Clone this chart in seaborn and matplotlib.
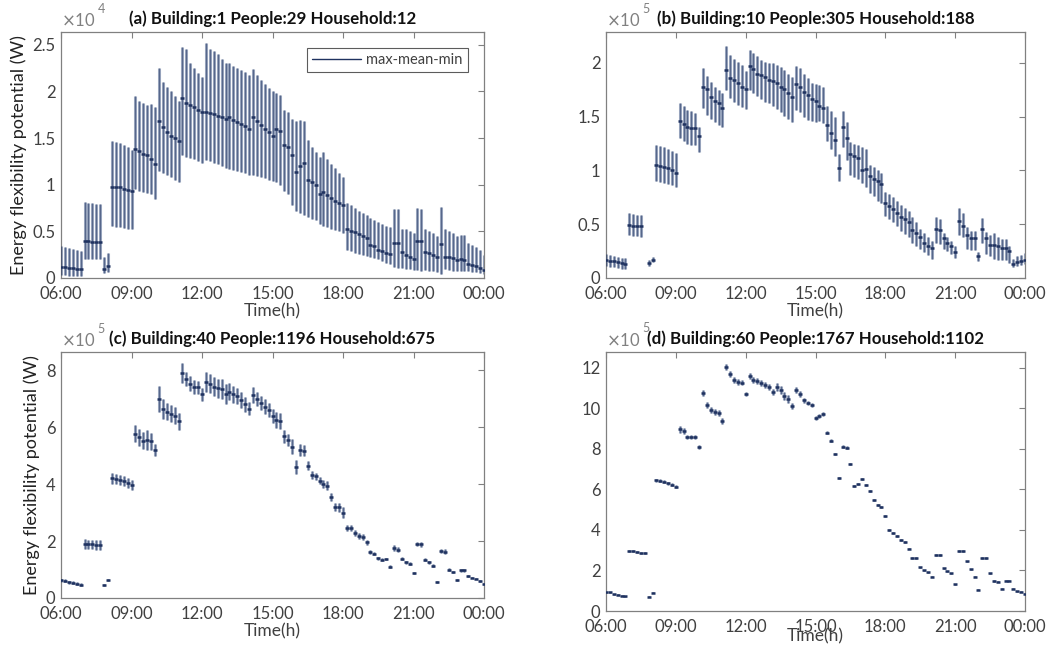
import numpy as np
import matplotlib
matplotlib.use("Agg")
import matplotlib.pyplot as plt
import seaborn as sns
from matplotlib.lines import Line2D
from matplotlib.ticker import FuncFormatter

nan = np.nan

# ---------------- data (10-minute steps from 06:00 to 00:00) ----------------
tick_hours = [6, 9, 12, 15, 18, 21, 24]
tick_labels = ["06:00", "09:00", "12:00", "15:00", "18:00", "21:00", "00:00"]
n_steps = 109
time_h = 6 + np.arange(n_steps) / 6.0

titles = ["(a) Building:1 People:29 Household:12",
          "(b) Building:10 People:305 Household:188",
          "(c) Building:40 People:1196 Household:675",
          "(d) Building:60 People:1767 Household:1102"]

a_mean = [1200, 1150, 1100, 1050, 1000, 950,
          4000, 4000, 3900, 3900, 3900, 1000,
          1300, 9800, 9750, 9700, 9500, 9400,
          9300, 13800, 13600, 13300, 13200, 12800,
          12200, 16800, 16200, 15600, 15200, 15000,
          14700, 19300, 18800, 18500, 18300, 18000,
          17800, 17800, 17700, 17600, 17400, 17300,
          17000, 17200, 16900, 16700, 16500, 16300,
          16000, 17200, 16800, 16400, 16000, 15600,
          15200, 16000, 15800, 14200, 14000, 13200,
          11400, 12000, 12300, 10500, 10300, 10000,
          9000, 9200, 8900, 8600, 8200, 8000,
          7800, 5200, 5000, 4900, 4700, 4500,
          4300, 3500, 3400, 3000, 2900, 2700,
          2600, 3800, 3800, 2800, 2500, 2300,
          2000, 4000, 4000, 2800, 2700, 2500,
          2200, 3600, 2300, 2200, 2100, 1900,
          2000, 1900, 1500, 1400, 1300, 1100,
          900]
a_hi = [3400, 3300, 3200, 3100, 3000, 2900,
        8100, 8000, 8000, 7900, 7900, 2200,
        2700, 14700, 14600, 14500, 14300, 14000,
        13700, 19500, 19000, 18700, 18500, 18600,
        18300, 22500, 21000, 20500, 20000, 19500,
        19000, 24800, 24500, 23000, 22500, 22000,
        21500, 25200, 24500, 24300, 24000, 23500,
        23000, 23000, 22700, 22500, 22300, 22100,
        21800, 22400, 21800, 21200, 20800, 20400,
        20000, 19800, 19600, 18000, 17800, 17000,
        16800, 16900, 16800, 14800, 14000, 13500,
        13000, 13500, 12800, 12200, 11800, 11200,
        10800, 8000, 7800, 7500, 7200, 7000,
        6800, 6400, 6200, 6000, 5800, 5600,
        5500, 7400, 7400, 5300, 5200, 5000,
        4800, 7500, 7400, 5200, 5000, 4800,
        4500, 7600, 5200, 5000, 4800, 4500,
        4600, 4600, 3800, 3500, 3300, 3000,
        2500]
a_lo = [300, 300, 250, 250, 200, 200,
        2000, 2000, 2000, 2000, 2000, 500,
        600, 5600, 5500, 5500, 5400, 5300,
        5200, 9500, 9300, 9200, 9100, 9000,
        8500, 11500, 11200, 11000, 10800, 10500,
        10300, 13200, 13000, 12900, 12700, 12500,
        12300, 12600, 12500, 12300, 12200, 12000,
        11800, 11700, 11600, 11500, 11400, 11200,
        11000, 11000, 10900, 10800, 10700, 10500,
        10400, 10300, 10000, 9300, 9000, 7800,
        7200, 7000, 6800, 6500, 6300, 6200,
        5800, 5600, 5500, 5300, 5100, 5000,
        4800, 3000, 2900, 2700, 2600, 2500,
        2400, 2200, 2100, 2000, 1800, 1600,
        1500, 1200, 1100, 1100, 1000, 1000,
        900, 900, 800, 900, 800, 800,
        600, 400, 1000, 900, 800, 700,
        700, 800, 700, 600, 600, 500,
        400]

b_mean = [16500, 16000, 15500, 14500, 13500, 13000,
          49000, 48500, 48000, 48000, nan, 14000,
          17000, 105000, 104000, 103000, 102000, 100000,
          98000, 146000, 143000, 140000, 139000, 139000,
          132000, 178000, 176000, 168000, 165000, 163000,
          158000, 193000, 186000, 184000, 181000, 178000,
          176000, 197000, 194000, 190000, 189000, 187000,
          184000, 183000, 181000, 178000, 176000, 172000,
          168000, 180000, 178000, 173000, 170000, 166000,
          165000, 160000, 158000, 142000, 135000, 128000,
          102000, 140000, 130000, 115000, 113000, 112000,
          100000, 101000, 95000, 92000, 90000, 87000,
          70000, 67000, 64000, 60000, 57000, 55000,
          52000, 45000, 42000, 38000, 33000, 30000,
          28000, 46000, 45000, 37000, 33000, 30000,
          24000, 53000, 48000, 40000, 37000, 37000,
          20000, 46000, 37000, 31000, 31000, 30000,
          28000, 28000, 25000, 13000, 15000, 16000,
          17000]
b_hi = [22500, 21500, 20500, 19500, 19000, 18500,
        60000, 59500, 59000, 58500, nan, 16500,
        19500, 124000, 123000, 122000, 120000, 118000,
        116000, 163000, 160000, 156000, 155000, 153000,
        140000, 195000, 188000, 182000, 178000, 175000,
        172000, 216000, 207000, 204000, 201000, 198000,
        192000, 212000, 209000, 206000, 203000, 201000,
        200000, 200000, 198000, 196000, 193000, 190000,
        187000, 197000, 195000, 190000, 186000, 181000,
        180000, 179000, 178000, 160000, 155000, 150000,
        115000, 155000, 145000, 126000, 125000, 124000,
        122000, 120000, 105000, 103000, 100000, 98000,
        80000, 78000, 75000, 72000, 68000, 65000,
        62000, 57000, 52000, 46000, 42000, 38000,
        34000, 57000, 55000, 42000, 38000, 34000,
        30000, 65000, 60000, 47000, 44000, 44000,
        24000, 56000, 43000, 40000, 42000, 38000,
        36000, 36000, 30000, 18000, 20000, 21000,
        23000]
b_lo = [11000, 10500, 10000, 9500, 8500, 8000,
        40000, 39500, 39000, 38500, nan, 11500,
        14500, 90000, 89000, 88000, 87000, 86000,
        85000, 130000, 127000, 125000, 124000, 124000,
        117000, 158000, 152000, 148000, 145000, 142000,
        140000, 175000, 167000, 164000, 161000, 159000,
        157000, 175000, 172000, 169000, 166000, 164000,
        163000, 160000, 157000, 154000, 151000, 148000,
        145000, 156000, 154000, 150000, 147000, 146000,
        145000, 146000, 144000, 127000, 120000, 113000,
        90000, 122000, 110000, 96000, 94000, 92000,
        88000, 85000, 79000, 76000, 72000, 70000,
        58000, 55000, 52000, 48000, 44000, 41000,
        38000, 33000, 30000, 27000, 24000, 21000,
        18000, 33000, 32000, 27000, 25000, 22000,
        19000, 40000, 38000, 27000, 26000, 26000,
        16000, 33000, 22000, 20000, 18000, 17000,
        17000, 17000, 14000, 10000, 11000, 12000,
        13000]

c_mean = [62000, 61000, 55000, 53000, 50000, 47000,
          190000, 188000, 188000, 187000, 186000, 45000,
          63000, 420000, 418000, 415000, 410000, 405000,
          398000, 577000, 565000, 553000, 555000, 550000,
          520000, 700000, 665000, 655000, 648000, 640000,
          620000, 790000, 770000, 753000, 742000, 740000,
          715000, 760000, 753000, 742000, 736000, 733000,
          718000, 725000, 715000, 708000, 697000, 680000,
          665000, 712000, 700000, 685000, 672000, 660000,
          640000, 625000, 622000, 568000, 555000, 532000,
          460000, 520000, 518000, 465000, 432000, 428000,
          412000, 400000, 395000, 355000, 320000, 318000,
          300000, 247000, 245000, 228000, 218000, 215000,
          195000, 162000, 155000, 140000, 135000, 137000,
          110000, 175000, 170000, 138000, 125000, 120000,
          88000, 190000, 188000, 135000, 125000, 113000,
          55000, 165000, 163000, 100000, 92000, 62000,
          97000, 97000, 78000, 72000, 68000, 60000,
          48000]
c_err = [6000, 6000, 5000, 5000, 5000, 5000,
         17000, 17000, 17000, 17000, 17000, 4000,
         4000, 18000, 18000, 18000, 18000, 18000,
         18000, 30000, 30000, 30000, 35000, 30000,
         20000, 45000, 35000, 30000, 30000, 30000,
         30000, 35000, 25000, 25000, 25000, 22000,
         22000, 35000, 33000, 33000, 33000, 35000,
         35000, 30000, 30000, 28000, 28000, 25000,
         23000, 28000, 25000, 26000, 26000, 25000,
         25000, 27000, 28000, 22000, 22000, 25000,
         23000, 20000, 20000, 15000, 13000, 12000,
         13000, 13000, 15000, 14000, 15000, 16000,
         20000, 10000, 10000, 10000, 10000, 10000,
         8000, 6000, 5000, 5000, 5000, 5000,
         5000, 10000, 10000, 6000, 5000, 5000,
         4000, 8000, 8000, 5000, 5000, 5000,
         3000, 8000, 8000, 4000, 4000, 3000,
         4000, 4000, 4000, 3000, 3000, 3000,
         3000]

d_mean = [93000, 92000, 82000, 81000, 76000, 72000,
          298000, 295000, 290000, 288000, 287000, 70000,
          90000, 645000, 643000, 637000, 630000, 622000,
          613000, 895000, 888000, 858000, 860000, 858000,
          810000, 1075000, 1015000, 990000, 980000, 975000,
          935000, 1205000, 1170000, 1140000, 1130000, 1125000,
          1070000, 1160000, 1140000, 1135000, 1125000, 1115000,
          1105000, 1080000, 1105000, 1090000, 1060000, 1045000,
          1010000, 1090000, 1070000, 1040000, 1025000, 1015000,
          950000, 962000, 970000, 880000, 840000, 775000,
          655000, 810000, 805000, 725000, 615000, 625000,
          650000, 620000, 590000, 545000, 525000, 515000,
          470000, 398000, 385000, 370000, 350000, 340000,
          308000, 262000, 262000, 215000, 200000, 190000,
          170000, 275000, 275000, 210000, 195000, 185000,
          132000, 295000, 295000, 245000, 205000, 170000,
          105000, 260000, 260000, 185000, 148000, 145000,
          110000, 150000, 150000, 110000, 98000, 95000,
          85000]
d_err = [3000, 3000, 3000, 3000, 3000, 3000,
         5000, 5000, 5000, 5000, 5000, 3000,
         3000, 8000, 8000, 8000, 8000, 8000,
         8000, 15000, 15000, 10000, 10000, 10000,
         10000, 15000, 15000, 15000, 15000, 15000,
         15000, 15000, 15000, 15000, 15000, 12000,
         12000, 15000, 15000, 15000, 15000, 15000,
         15000, 15000, 20000, 20000, 18000, 18000,
         15000, 15000, 15000, 12000, 10000, 10000,
         10000, 10000, 10000, 8000, 8000, 6000,
         6000, 8000, 8000, 6000, 5000, 5000,
         6000, 5000, 5000, 5000, 5000, 5000,
         5000, 4000, 4000, 4000, 4000, 4000,
         4000, 4000, 4000, 3000, 3000, 3000,
         3000, 4000, 4000, 3000, 3000, 3000,
         3000, 4000, 4000, 3000, 3000, 3000,
         3000, 4000, 4000, 3000, 3000, 3000,
         3000, 3000, 3000, 3000, 3000, 3000,
         3000]

# ---------------- styling ----------------
sns.set_style("white", {"xtick.direction": "in", "ytick.direction": "in",
                        "axes.edgecolor": "#808080"})
plt.rcParams['font.family'] = ['Lato', 'DejaVu Sans']

DARK = "#1f3260"
LIGHT = "#95a2bb"
GREY = "#404040"

fig = plt.figure(figsize=(10.51, 6.46), dpi=100)

W, H = 1051.0, 646.0
boxes = [(61, 484, 32, 278), (606, 1025, 32, 278),
         (61, 484, 352, 598), (606, 1025, 352, 611)]

panels = [
    dict(mean=np.array(a_mean, float), lo=np.array(a_lo, float), hi=np.array(a_hi, float),
         scale=1e4, exp="4", ymax=26360, yt=[0, 5000, 10000, 15000, 20000, 25000]),
    dict(mean=np.array(b_mean, float), lo=np.array(b_lo, float), hi=np.array(b_hi, float),
         scale=1e5, exp="5", ymax=228700, yt=[0, 50000, 100000, 150000, 200000]),
    dict(mean=np.array(c_mean, float),
         lo=np.array(c_mean, float) - np.array(c_err, float),
         hi=np.array(c_mean, float) + np.array(c_err, float),
         scale=1e5, exp="5", ymax=864000, yt=[0, 200000, 400000, 600000, 800000]),
    dict(mean=np.array(d_mean, float),
         lo=np.array(d_mean, float) - np.array(d_err, float),
         hi=np.array(d_mean, float) + np.array(d_err, float),
         scale=1e5, exp="5", ymax=1277000,
         yt=[0, 200000, 400000, 600000, 800000, 1000000, 1200000]),
]

for i, (p, (l, r, t, b)) in enumerate(zip(panels, boxes)):
    ax = fig.add_axes([l / W, 1 - b / H, (r - l) / W, (b - t) / H])
    m = ~np.isnan(p["mean"])
    x = time_h[m]
    ax.vlines(x, p["lo"][m], p["hi"][m], colors=LIGHT, linewidth=2.2, zorder=2)
    ax.vlines(x, p["lo"][m], p["hi"][m], colors=DARK, linewidth=0.5, alpha=0.75, zorder=3)
    sns.scatterplot(x=x, y=p["mean"][m], ax=ax, marker="_", s=10, color=DARK,
                    linewidth=1.8, legend=False, zorder=4)
    ax.set_xlim(6, 24)
    ax.set_ylim(0, p["ymax"])
    ax.set_xticks(tick_hours)
    ax.set_xticklabels(tick_labels)
    ax.set_yticks(p["yt"])
    sc = p["scale"]
    ax.yaxis.set_major_formatter(FuncFormatter(lambda v, pos, sc=sc: f"{v / sc:g}"))
    ax.tick_params(top=True, right=True, direction="in", length=4, width=0.8,
                   color="#808080", labelsize=12, labelcolor=GREY)
    ax.tick_params(axis="x", pad=6)
    ax.tick_params(axis="y", pad=4)
    for s in ax.spines.values():
        s.set_color("#808080")
        s.set_linewidth(0.9)
    ax.set_title(titles[i], fontsize=12.2, fontweight="bold", color="#111111", pad=6)
    ax.text(0.0, 1.012, r"$\times$10", transform=ax.transAxes, fontsize=12,
            color="#808080", ha="left", va="bottom")
    ax.text(0.086, 1.07, p["exp"], transform=ax.transAxes, fontsize=9,
            color="#808080", ha="left", va="bottom")
    lp = -5 if i == 3 else 1
    ax.set_xlabel("Time(h)", fontsize=12.5, color=GREY, labelpad=lp)
    ax.set_ylabel("")
    if i in (0, 2):
        ax.set_ylabel("Energy flexibility potential (W)", fontsize=13, color="#222222",
                      labelpad=4)
    if i == 0:
        h = Line2D([0], [0], color=DARK, lw=1.0)
        leg = ax.legend([h], ["max-mean-min"], loc="upper right",
                        bbox_to_anchor=(0.962, 0.935), frameon=True, fancybox=False,
                        edgecolor="#333333", fontsize=10.5, handlelength=3.3,
                        borderaxespad=0, borderpad=0.35, handletextpad=0.4)
        leg.get_frame().set_linewidth(0.8)
        for txt in leg.get_texts():
            txt.set_color(GREY)

fig.savefig("out.png", dpi=100)
